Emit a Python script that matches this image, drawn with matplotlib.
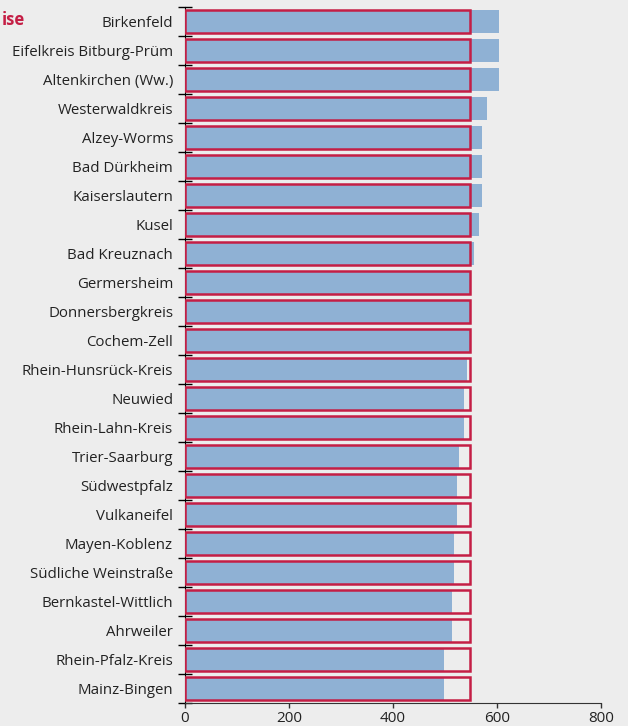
import matplotlib.pyplot as plt
import numpy as np

# Daten
KREISE = [
    "Birkenfeld", "Eifelkreis Bitburg-Prüm", "Altenkirchen (Ww.)", "Westerwaldkreis",
    "Alzey-Worms", "Bad Dürkheim", "Kaiserslautern", "Kusel", "Bad Kreuznach",
    "Germersheim", "Donnersbergkreis", "Cochem-Zell", "Rhein-Hunsrück-Kreis",
    "Neuwied", "Rhein-Lahn-Kreis", "Trier-Saarburg", "Südwestpfalz", "Vulkaneifel",
    "Mayen-Koblenz", "Südliche Weinstraße", "Bernkastel-Wittlich", "Ahrweiler",
    "Rhein-Pfalz-Kreis", "Mainz-Bingen",
]
WERTE = [604, 604, 604, 581, 572, 572, 572, 566, 556, 548, 548, 548, 543,
         537, 537, 527, 523, 523, 518, 518, 514, 514, 499, 499]
REFERENZ = [548] * len(KREISE)
X_TICKS = [0, 200, 400, 600, 800]
TITEL = "ise"  # im Original links abgeschnitten

BG = "#ededed"
BLUE = "#8fb1d4"
RED = "#c41e45"
TXT = "#222222"

plt.rcParams["font.family"] = ["Open Sans", "DejaVu Sans"]

fig = plt.figure(figsize=(6.28, 7.26), dpi=100, facecolor=BG)
ax = fig.add_axes([185 / 628, 23 / 726, 416 / 628, 696 / 726], facecolor=BG)

n = len(KREISE)
y = np.arange(n)

ax.barh(y, WERTE, height=0.82, color=BLUE, zorder=2)
ax.barh(y, REFERENZ, height=0.82, facecolor="none", edgecolor=RED,
        linewidth=1.8, zorder=3)

ax.set_xlim(0, 800)
ax.set_ylim(n - 0.5, -0.5)

ax.set_yticks(y)
ax.set_yticklabels(KREISE, fontsize=10.8, color=TXT)
ax.tick_params(axis="y", which="major", length=0, pad=8.6)
ax.set_yticks(np.arange(n + 1) - 0.5, minor=True)
ax.tick_params(axis="y", which="minor", length=10, direction="inout", width=1)

ax.set_xticks(X_TICKS)
ax.set_xticklabels([str(v) for v in X_TICKS], fontsize=11, color=TXT)
ax.tick_params(axis="x", length=3.6, direction="out", width=1, pad=2.2,
               color="#333333")

for s in ["top", "right"]:
    ax.spines[s].set_visible(False)
ax.spines["left"].set_color("black")
ax.spines["bottom"].set_color("#333333")

fig.text(2 / 628, 1 - 20 / 726, TITEL, ha="left", va="center",
         color=RED, fontsize=12, fontweight="bold")

fig.savefig("out.png", dpi=100, facecolor=BG)
